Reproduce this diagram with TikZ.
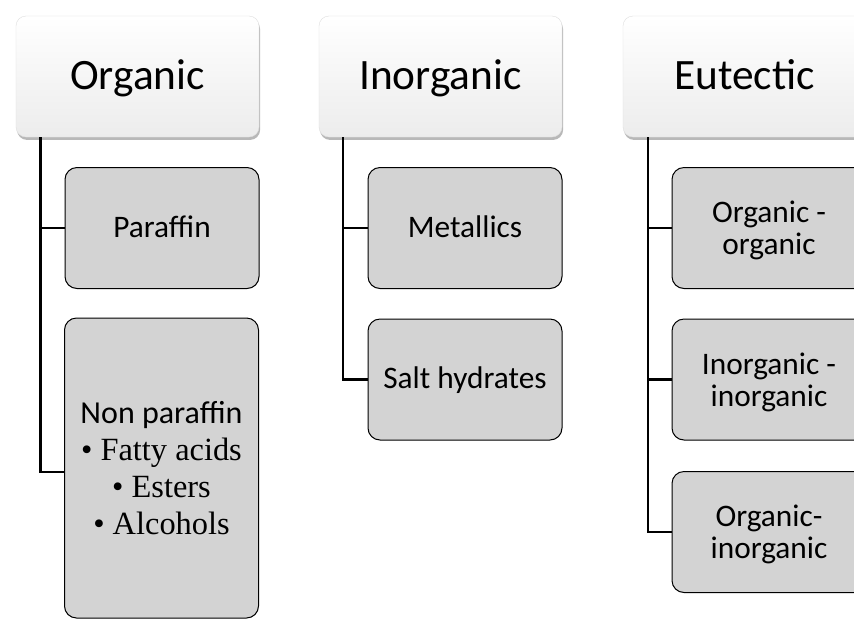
\documentclass[tikz,border=0pt]{standalone}
\usepackage{fontspec}
\setmainfont{Carlito}
\newfontfamily\serifbul{Liberation Serif}
\usetikzlibrary{shadows}
\definecolor{childfill}{RGB}{211,211,211}
\definecolor{topbot}{RGB}{236,236,236}
\newcommand{\bul}[1]{\serifbul\fontsize{24.3}{27.75}\selectfont\textbullet\ #1}
\tikzset{
  topbox/.style={rounded corners=7.5pt, minimum width=182.25pt, minimum height=90.75pt,
    inner sep=0pt, top color=white, bottom color=topbot, draw=gray!25, line width=0.3pt,
    drop shadow={shadow xshift=0.8pt, shadow yshift=-2.2pt, fill=black, opacity=0.28},
    font=\fontsize{32.5}{36}\selectfont, text height=21pt, text depth=2pt},
  childbox/.style={rounded corners=9pt, minimum width=145.5pt, minimum height=90.75pt,
    inner sep=0pt, fill=childfill, draw=black, line width=0.75pt, align=center,
    font=\fontsize{23.5}{24}\selectfont, text depth=0pt},
  onebox/.style={childbox, text height=15pt, text depth=1pt},
  conn/.style={draw=black, line width=1.8pt},
}
\begin{document}
\begin{tikzpicture}[x=0.75pt,y=-0.75pt]
\path[use as bounding box, clip] (0,0) rectangle (854,619);
\fill[white] (0,0) rectangle (854,619);
% top boxes
\node[topbox] (org) at (137.5,76.5) {Organic};
\node[topbox] (inorg) at (440.5,76.5) {Inorganic};
\node[topbox] (eut) at (744.5,76.5) {Eutectic};
% children
\node[onebox] (par) at (162,228) {Paraffin};
\node[childbox, minimum height=225pt, font=\fontsize{24}{27.75}\selectfont, text depth=-1pt] (np) at (161.5,468)
  {Non paraffin\\\bul{Fatty acids}\\\bul{Esters}\\\bul{Alcohols}};
\node[onebox] (met) at (465,228) {Metallics};
\node[onebox] (salt) at (465,379.5) {Salt hydrates};
\node[childbox] (oo) at (769,228) {Organic -\\organic};
\node[childbox] (ii) at (769,379.5) {Inorganic -\\inorganic};
\node[childbox] (oi) at (769,532) {Organic-\\inorganic};
% connectors
\draw[conn] ([xshift=18.5pt]org.south west) |- (par.west);
\draw[conn] ([xshift=18.5pt]org.south west) |- ([yshift=-3pt]np.west);
\draw[conn] ([xshift=18pt]inorg.south west) |- (met.west);
\draw[conn] ([xshift=18pt]inorg.south west) |- (salt.west);
\draw[conn] ([xshift=18.75pt]eut.south west) |- (oo.west);
\draw[conn] ([xshift=18.75pt]eut.south west) |- (ii.west);
\draw[conn] ([xshift=18.75pt]eut.south west) |- (oi.west);
\end{tikzpicture}
\end{document}
